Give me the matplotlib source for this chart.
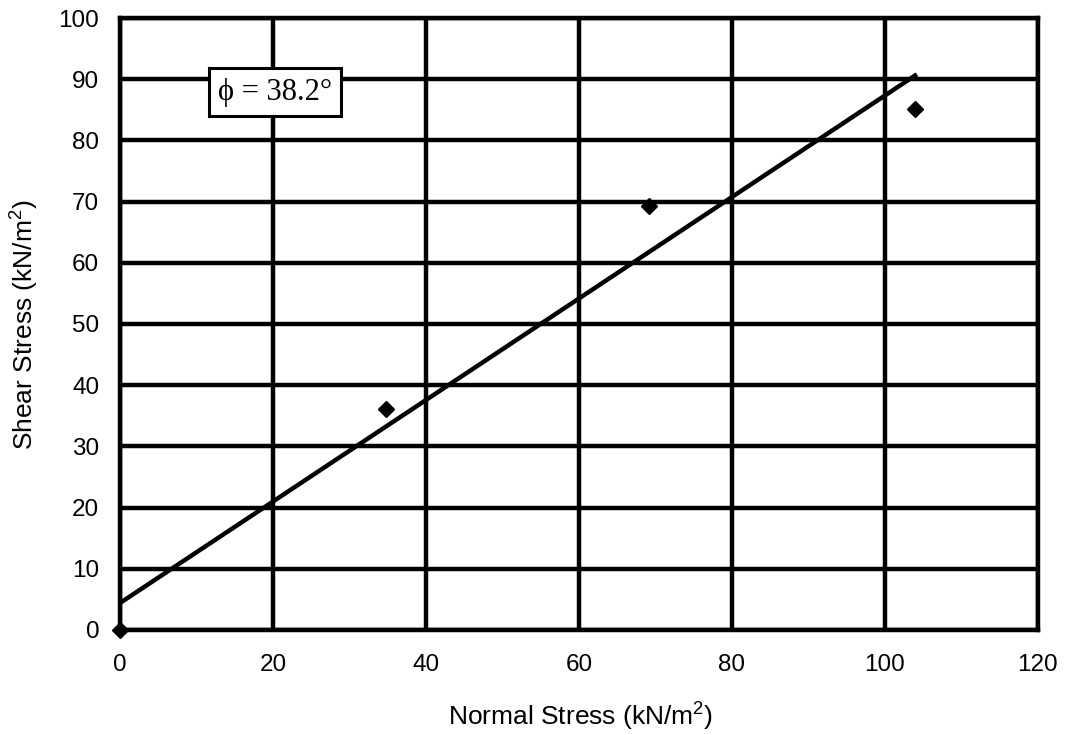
import matplotlib
matplotlib.use("Agg")
from matplotlib import pyplot as plt

# data
normal_stress = [0, 34.8, 69.2, 103.9]
shear_stress = [0, 36.1, 69.3, 85.2]
fit_x = [0, 104.2]
fit_y = [4.4, 90.8]
x_ticks = [0, 20, 40, 60, 80, 100, 120]
y_ticks = [0, 10, 20, 30, 40, 50, 60, 70, 80, 90, 100]

plt.rcParams['font.family'] = ['Liberation Sans', 'DejaVu Sans']
plt.rcParams['mathtext.fontset'] = 'custom'
plt.rcParams['mathtext.rm'] = 'Liberation Sans'

fig = plt.figure(figsize=(10.72, 7.35), dpi=100)
ax = fig.add_axes([0.112, 0.143, 0.856, 0.8325])

ax.plot(fit_x, fit_y, color="black", lw=3.2, solid_capstyle="butt")
ax.plot(normal_stress, shear_stress, "D", color="black", ms=8, ls="none", clip_on=False)

ax.set_xlim(0, 120)
ax.set_ylim(0, 100)
ax.set_xticks(x_ticks)
ax.set_yticks(y_ticks)
ax.grid(True, color="black", lw=3.2)
ax.set_axisbelow(True)
for s in ax.spines.values():
    s.set_linewidth(3.2)
ax.tick_params(axis="y", length=0, labelsize=17.5, pad=15)
ax.tick_params(axis="x", length=0, labelsize=17.5, pad=17)

fig.text(0.542, 0.025, "Normal Stress (kN/m$\\mathregular{^2}$)", fontsize=19, ha="center", va="center")
fig.text(0.023, 0.558, "Shear Stress (kN/m$\\mathregular{^2}$)", fontsize=19, ha="center", va="center",
         rotation=90)

ax.text(0.169, 0.879, "\u03d5 = 38.2\u00b0", transform=ax.transAxes,
        fontsize=22, family=["Liberation Serif", "DejaVu Serif"], va="center", ha="center",
        bbox=dict(boxstyle="square,pad=0.3", facecolor="white", edgecolor="black", lw=2.2))

fig.savefig("out.png", dpi=100)
